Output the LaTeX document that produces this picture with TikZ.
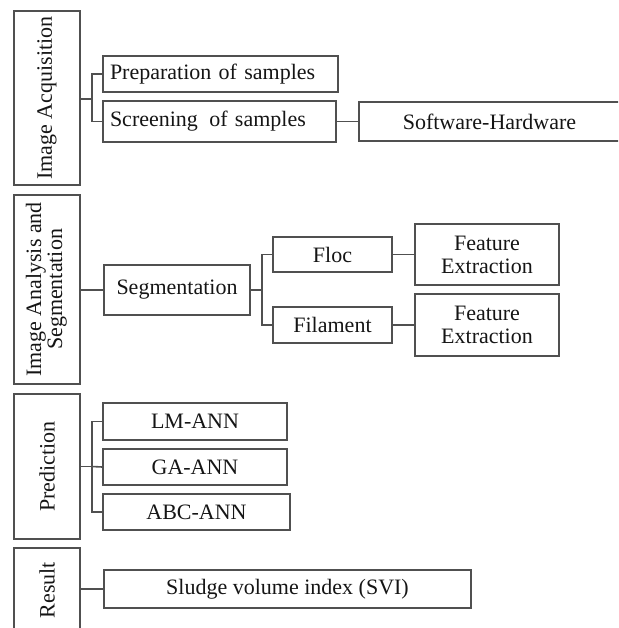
\documentclass[tikz,border=0pt]{standalone}
\usepackage{fontspec}
\setmainfont{Liberation Serif}
\definecolor{linegray}{HTML}{505050}
\definecolor{txt}{HTML}{151515}
\begin{document}
\begin{tikzpicture}[x=1pt,y=-1pt,
  box/.style={draw=linegray, line width=1.6pt, inner sep=0pt, text=txt,
    font=\fontsize{22}{23}\selectfont, align=center},
  leftbox/.style={box, text width={#1}, align=left, inner xsep=7pt},
  conn/.style={draw=linegray, line width=1.6pt}]
\useasboundingbox (0,0) rectangle (618,628);
\clip (0,0) rectangle (618,628);
% helper: box by corners
\newcommand{\bx}[6][]{\node[box,#1, minimum width={#4-#2}, minimum height={#5-#3}] (#6) at ({(#2+#4)/2},{(#3+#5)/2})}
% stage boxes
\bx{14}{11}{80}{185}{acq} {\rotatebox{90}{Image Acquisition}};
\bx{14}{195}{80}{384}{ias} {\rotatebox{90}{\begin{tabular}{@{}c@{}}Image Analysis and\\[-2pt]Segmentation\end{tabular}}};
\bx{14}{394}{80}{539}{pred} {\rotatebox{90}{Prediction}};
\bx{14}{548}{80}{632}{res} {\rotatebox{90}{Result}};
% acquisition
\bx[leftbox=221pt]{103}{56}{338}{92}{prep} {Preparation of samples};
\bx[leftbox=219pt]{103}{101}{336}{142}{screen} {Screening\hspace{4pt} of samples};
\bx{359}{102}{620}{141}{sw} {Software-Hardware};
% analysis
\bx{104}{265}{250}{315}{seg} {Segmentation};
\bx{273}{237}{392}{272}{floc} {Floc};
\bx{273}{307}{392}{343}{fil} {Filament};
\bx{415}{224}{559}{285}{fe1} {Feature\\Extraction};
\bx{415}{294}{559}{356}{fe2} {Feature\\Extraction};
% prediction
\bx{103}{403}{287}{440}{lm} {LM-ANN};
\bx{103}{449}{287}{485}{ga} {GA-ANN};
\bx{103}{494}{290}{530}{abc} {ABC-ANN};
% result
\bx{104}{570}{471}{608}{svi} {Sludge volume index (SVI)};
% junctions
\coordinate (j1) at (92,99);
\coordinate (j2) at (262,290);
\coordinate (j3) at (92,466.5);
% connectors
\draw[conn] (acq.east |- j1) -- (j1);
\draw[conn] (prep.west) -| (j1) |- (screen.west);
\draw[conn] (screen.east) -- (sw.west |- screen.east);
\draw[conn] (ias.east |- seg.west) -- (seg.west);
\draw[conn] (seg.east) -- (j2);
\draw[conn] (floc.west) -| (j2) |- (fil.west);
\draw[conn] (floc.east) -- (fe1.west |- floc.east);
\draw[conn] (fil.east) -- (fe2.west |- fil.east);
\draw[conn] (pred.east) -- (j3);
\draw[conn] (lm.west) -| (j3) |- (abc.west);
\draw[conn] (j3) -- (ga.west);
\draw[conn] (res.east |- svi.west) -- (svi.west);
\end{tikzpicture}
\end{document}
